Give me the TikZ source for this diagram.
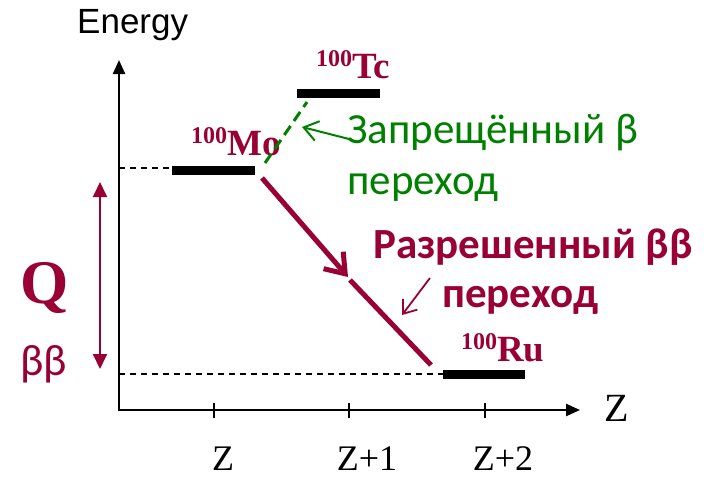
\documentclass[tikz,border=0pt]{standalone}
\usepackage{fontspec}
\setmainfont{Liberation Serif}
\newfontfamily\arialf{Liberation Sans}
\newfontfamily\calf{Carlito}
\usetikzlibrary{arrows.meta}
\definecolor{dred}{RGB}{153,0,51}
\definecolor{dgreen}{RGB}{0,128,0}
\tikzset{
  axis/.style={line width=2.4pt,-{Triangle[length=14pt,width=12pt]}},
  level/.style={line width=9pt},
  guide/.style={line width=1.2pt,dash pattern=on 6pt off 5pt},
  lbl/.style={anchor=base west,inner sep=0pt,text=dred,font=\bfseries\fontsize{37}{37}\selectfont},
  tick/.style={anchor=base,inner sep=0pt,font=\fontsize{36}{36}\selectfont},
  green/.style={anchor=base west,inner sep=0pt,text=dgreen,font=\calf\fontsize{43}{43}\selectfont},
  redtxt/.style={anchor=base west,inner sep=0pt,text=dred,font=\calf\bfseries\fontsize{43}{43}\selectfont},
}
\newcommand{\sups}[1]{\raisebox{12pt}{\fontsize{24}{24}\selectfont #1}}
\begin{document}
\begin{tikzpicture}[x=1pt,y=-1pt]
\useasboundingbox (0,0) rectangle (707,477);
% axes
\coordinate (O) at (119,411);
\coordinate (Ytop) at (119,60);
\coordinate (Xstart) at (118,410);
\coordinate (Xend) at (580,410);
\draw[axis] (O) -- (Ytop);
\draw[axis] (Xstart) -- (Xend);
\foreach \x/\n in {214/t1,349/t2,485/t3}{
  \coordinate (\n a) at (\x,403); \coordinate (\n b) at (\x,418);
  \draw[line width=1.5pt] (\n a) -- (\n b);
}
\node[tick] (zl1) at (223,470) {Z};
\node[tick] (zl2) at (367,470) {Z+1};
\node[tick] (zl3) at (503,470) {Z+2};
\node[anchor=base west,inner sep=0pt,font=\fontsize{40}{40}\selectfont] (zax) at (604,421) {Z};
\node[anchor=base west,inner sep=0pt,font=\arialf\fontsize{35}{35}\selectfont] (en) at (77,33) {Energy};
% levels
\coordinate (moL) at (172,170); \coordinate (moR) at (255,170);
\coordinate (tcL) at (297,93);  \coordinate (tcR) at (380,93);
\coordinate (ruL) at (443,374); \coordinate (ruR) at (525,374);
\draw[level] (moL) -- (moR);
\draw[level] (tcL) -- (tcR);
\draw[level] (ruL) -- (ruR);
\coordinate (g1) at (119,168);
\coordinate (g2) at (119,374);
\draw[guide] (g1) -- (moL |- g1);
\draw[guide] (g2) -- (ruL);
% labels
\node[lbl] (mo) at (191,155) {\sups{100}Mo};
\node[lbl] (tc) at (316,78) {\sups{100}Tc};
\node[lbl] (ru) at (461,361) {\sups{100}Ru};
% forbidden
\coordinate (gs) at (265,163); \coordinate (ge) at (307,102);
\draw[dgreen,line width=3pt,dash pattern=on 11pt off 6pt] (gs) -- (ge);
\coordinate (ga1) at (349,139); \coordinate (ga2) at (302,127);
\draw[dgreen,line width=2pt,-{Straight Barb[length=14pt,width=20pt]}] (ga1) -- (ga2);
\node[green] (f1) at (347,143) {Запрещённый β};
\node[green] (f2) at (347,194) {переход};
% allowed
\coordinate (rs) at (262,178); \coordinate (rm) at (348,277); \coordinate (rm2) at (350,280); \coordinate (re) at (431,365);
\draw[dred,line width=5pt,-{Straight Barb[length=18pt,width=26pt,line width=5pt]}] (rs) -- (rm);
\draw[dred,line width=5pt] (rm2) -- (re);
\coordinate (ra1) at (430,278); \coordinate (ra2) at (402,315);
\draw[dred,line width=1.8pt,-{Straight Barb[length=12pt,width=18pt]}] (ra1) -- (ra2);
\node[redtxt] (a1) at (373,258) {Разрешенный ββ};
\node[redtxt] (a2) at (442,307) {переход};
% Q
\coordinate (q1) at (100,182); \coordinate (q2) at (100,369);
\draw[dred,line width=2pt,{Triangle[length=15pt,width=14pt]}-{Triangle[length=15pt,width=14pt]}] (q1) -- (q2);
\node[anchor=base west,inner sep=0pt,text=dred,font=\bfseries\fontsize{62}{62}\selectfont] (Q) at (20,303) {Q};
\node[anchor=base west,inner sep=0pt,text=dred,font=\calf\fontsize{44}{44}\selectfont] (bb) at (20,375) {ββ};
\end{tikzpicture}
\end{document}
